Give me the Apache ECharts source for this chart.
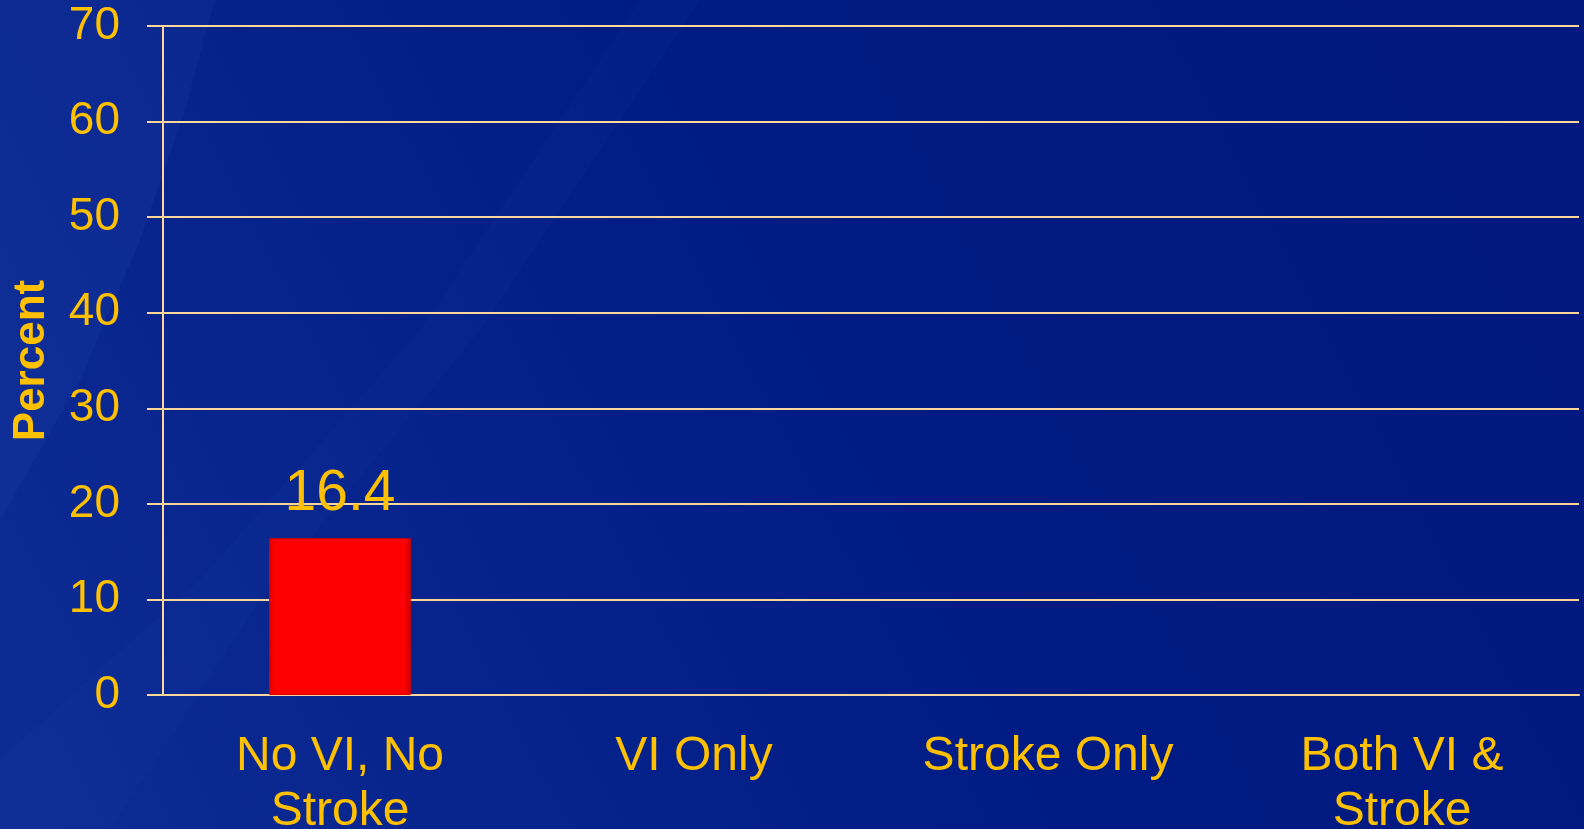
<!DOCTYPE html>
<html>
<head>
<meta charset="utf-8">
<title>Percent by group</title>
<script src="https://cdn.jsdelivr.net/npm/echarts@6/dist/echarts.min.js"></script>
<style>
  html, body { margin: 0; padding: 0; background: #001a82; }
  #chart { width: 1584px; height: 829px; }
</style>
</head>
<body>
<div id="chart"></div>
<script>
// categories along the x axis
const categories = ['No VI, No\nStroke', 'VI Only', 'Stroke Only', 'Both VI &\nStroke'];
// only the first group has a bar in the picture
const percentValues = [16.4, '-', '-', '-'];
const yTicks = [0, 10, 20, 30, 40, 50, 60, 70];

const yellow = '#FFC000';
const lineColor = '#FFD699';
const font = '"Liberation Sans", Arial, sans-serif';

let chart = echarts.init(document.getElementById('chart'));
chart.setOption({
  animation: false,
  backgroundColor: {
    type: 'linear', x: 0, y: 1, x2: 1, y2: 0,
    colorStops: [
      { offset: 0, color: '#0d2d94' },
      { offset: 0.3, color: '#06228b' },
      { offset: 0.55, color: '#001b83' },
      { offset: 1, color: '#001880' }
    ]
  },
  // faint swooshes of the slide background
  graphic: [
    {
      type: 'polygon', silent: true, z: -10,
      shape: { points: [[0, 0], [215, 0], [185, 110], [140, 240], [80, 380], [0, 520]] },
      style: { fill: 'rgba(60,100,200,0.10)' }
    },
    {
      type: 'polygon', silent: true, z: -10,
      shape: { points: [[0, 829], [0, 760], [200, 580], [420, 330], [640, 0], [700, 0], [480, 330], [260, 600], [110, 829]] },
      style: { fill: 'rgba(60,100,200,0.05)' }
    }
  ],
  grid: { left: 163, right: 5, top: 26, bottom: 134, outerBoundsMode: 'none' },
  xAxis: {
    type: 'category',
    data: categories,
    axisLine: { lineStyle: { color: lineColor, width: 2 } },
    axisTick: { length: 14, lineStyle: { color: lineColor, width: 2 } },
    axisLabel: {
      color: yellow, fontSize: 48, fontFamily: font,
      lineHeight: 55, margin: 34, interval: 0
    }
  },
  yAxis: {
    type: 'value',
    min: yTicks[0],
    max: yTicks[yTicks.length - 1],
    interval: 10,
    name: 'Percent',
    nameLocation: 'middle',
    nameGap: 109,
    nameTextStyle: { color: yellow, fontSize: 44, fontWeight: 'bold', fontFamily: font },
    axisLine: { show: true, lineStyle: { color: lineColor, width: 2 } },
    axisTick: { show: true, length: 16, lineStyle: { color: lineColor, width: 2 } },
    axisLabel: { color: yellow, fontSize: 46, fontFamily: font, margin: 43, padding: [6, 0, 0, 0] },
    splitLine: { lineStyle: { color: lineColor, width: 2 } }
  },
  series: [{
    type: 'bar',
    data: percentValues,
    barWidth: '40%',
    itemStyle: {
      color: {
        type: 'linear', x: 0, y: 0, x2: 1, y2: 0,
        colorStops: [
          { offset: 0, color: '#d80000' },
          { offset: 0.04, color: '#ff0000' },
          { offset: 0.96, color: '#ff0000' },
          { offset: 1, color: '#c00000' }
        ]
      },
      borderColor: '#e00000',
      borderWidth: 1
    },
    label: {
      show: true, position: 'top', distance: 15,
      color: yellow, fontSize: 57, fontFamily: font
    }
  }]
});
</script>
</body>
</html>
